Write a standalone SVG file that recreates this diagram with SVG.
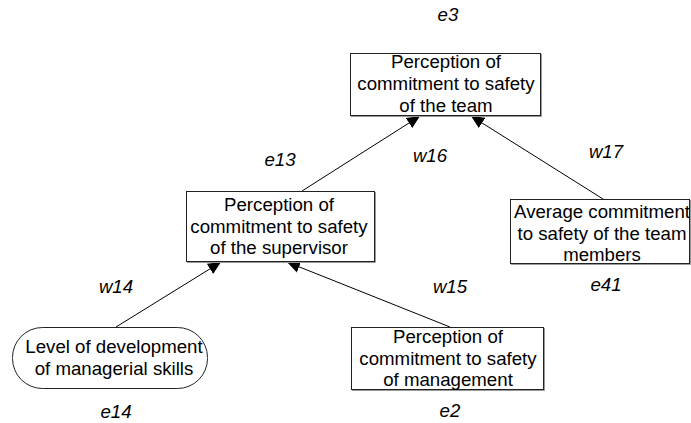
<svg xmlns="http://www.w3.org/2000/svg" width="691" height="423" viewBox="0 0 691 423">
  <defs>
    <marker id="arrow" markerUnits="userSpaceOnUse" markerWidth="14" markerHeight="14" viewBox="0 0 14 14" refX="13" refY="7" orient="auto">
      <path d="M0,1 L13,7 L0,13 Z" fill="#000"/>
    </marker>
    <style>
      .box { fill: #fff; stroke: #222; stroke-width: 1; }
      .shadow { fill: none; stroke: #9a9a9a; stroke-width: 1; }
      .lbl { font-family: "Liberation Sans", Arial, sans-serif; font-size: 18.67px; fill: #000; text-anchor: middle; }
      .var { font-family: "Liberation Sans", Arial, sans-serif; font-size: 18.67px; font-style: italic; fill: #000; text-anchor: middle; }
      .edge { stroke: #000; stroke-width: 1; fill: none; marker-end: url(#arrow); }
    </style>
  </defs>
  <rect width="691" height="423" fill="#fff"/>

  <!-- connectors -->
  <g id="connectors">
    <line class="edge" x1="302" y1="191" x2="420" y2="116"/>
    <line class="edge" x1="603" y1="199" x2="471" y2="116"/>
    <line class="edge" x1="116" y1="327" x2="221" y2="262"/>
    <line class="edge" x1="450" y1="327" x2="287" y2="262"/>
  </g>

  <!-- team perception -->
  <g id="team">
    <polyline class="shadow" points="541.5,54 541.5,116.5 351,116.5"/>
    <rect class="box" x="350.5" y="53.5" width="190" height="62"/>
    <text class="lbl" x="446" y="68">Perception of</text>
    <text class="lbl" x="446" y="90">commitment to safety</text>
    <text class="lbl" x="446" y="111.5">of the team</text>
    <text class="var" x="448" y="21">e3</text>
  </g>

  <!-- supervisor perception -->
  <g id="supervisor">
    <polyline class="shadow" points="375.5,192 375.5,262.5 187,262.5"/>
    <rect class="box" x="186.5" y="191.5" width="188" height="70"/>
    <text class="lbl" x="279" y="211">Perception of</text>
    <text class="lbl" x="279" y="232.5">commitment to safety</text>
    <text class="lbl" x="279" y="254">of the supervisor</text>
    <text class="var" x="280" y="166">e13</text>
  </g>

  <!-- team members average -->
  <g id="members">
    <polyline class="shadow" points="690.5,200 690.5,264.5 511,264.5"/>
    <rect class="box" x="510.5" y="199.5" width="179" height="64"/>
    <text class="lbl" x="602" y="218">Average commitment</text>
    <text class="lbl" x="602" y="239.5">to safety of the team</text>
    <text class="lbl" x="602" y="261">members</text>
    <text class="var" x="606" y="291">e41</text>
  </g>

  <!-- managerial skills -->
  <g id="skills">
    <rect class="box" x="12.5" y="327.5" width="195" height="61" rx="30" ry="30"/>
    <text class="lbl" x="114" y="353">Level of development</text>
    <text class="lbl" x="114" y="375">of managerial skills</text>
    <text class="var" x="116" y="418">e14</text>
  </g>

  <!-- management perception -->
  <g id="management">
    <polyline class="shadow" points="544.5,328 544.5,390.5 352,390.5"/>
    <rect class="box" x="351.5" y="327.5" width="192" height="62"/>
    <text class="lbl" x="448" y="343">Perception of</text>
    <text class="lbl" x="448" y="364.5">commitment to safety</text>
    <text class="lbl" x="448" y="386">of management</text>
    <text class="var" x="450" y="417">e2</text>
  </g>

  <!-- path weights -->
  <g id="weights">
    <text class="var" x="430" y="162">w16</text>
    <text class="var" x="606" y="158">w17</text>
    <text class="var" x="116" y="293">w14</text>
    <text class="var" x="450" y="293">w15</text>
  </g>
</svg>
